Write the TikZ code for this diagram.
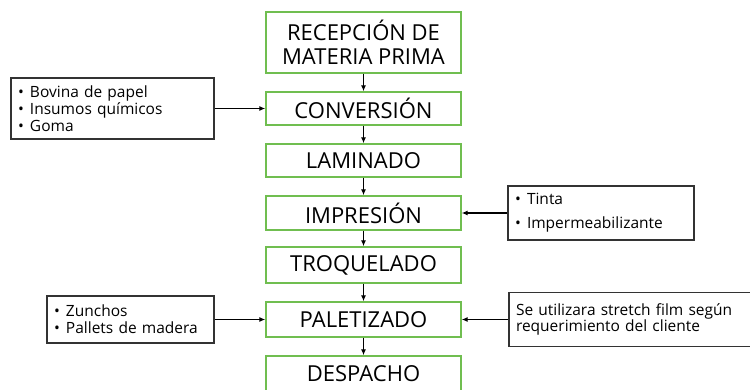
\documentclass[tikz,border=0pt]{standalone}
\usepackage{fontspec}
\setmainfont{Open Sans}
\usetikzlibrary{arrows.meta}

\definecolor{verde}{RGB}{112,190,80}
\newcommand{\itm}{\makebox[12pt][l]{\textbullet}}

\tikzset{
 etapa/.style={draw=verde, line width=1.4pt, minimum width=195pt, inner sep=2pt,
  font=\fontsize{22}{24}\selectfont, align=center},
 insumo/.style={draw=black!80, line width=1.2pt, inner sep=7pt, align=left,
  font=\fontsize{15.5}{16.7}\selectfont},
 flecha/.style={line width=1.5pt, -{Latex[length=6pt,width=5pt]}}
}

\begin{document}
\begin{tikzpicture}[x=1pt,y=-1pt]
 \useasboundingbox (0,0) rectangle (750,390);

 % etapas del proceso
 \node[etapa, minimum height=61pt] (rec) at (363.5,42.5) {RECEPCIÓN DE\\MATERIA PRIMA};
 \node[etapa, minimum height=33pt] (conv) at (363.5,108.5) {CONVERSIÓN};
 \node[etapa, minimum height=33pt] (lam) at (363.5,160.5) {LAMINADO};
 \node[etapa, minimum height=34pt] (imp) at (363.5,213) {IMPRESIÓN};
 \node[etapa, minimum height=36pt] (troq) at (363.5,265) {TROQUELADO};
 \node[etapa, minimum height=35pt] (pal) at (363.5,319.5) {PALETIZADO};
 \node[etapa, minimum height=35pt] (desp) at (363.5,373.5) {DESPACHO};

 \draw[flecha] (rec) -- (conv);
 \draw[flecha] (conv) -- (lam);
 \draw[flecha] (lam) -- (imp);
 \draw[flecha] (imp) -- (troq);
 \draw[flecha] (troq) -- (pal);
 \draw[flecha] (pal) -- (desp);

 % insumos
 \node[insumo, minimum width=203pt, minimum height=61pt, text width=189pt] (ins1) at (112.5,108.5)
  {\itm Bovina de papel\\ \itm Insumos químicos\\ \itm Goma};
 \node[insumo, minimum width=167pt, minimum height=47pt, text width=153pt] (ins2) at (130.5,319.5)
  {\itm Zunchos\\ \itm Pallets de madera};
 \node[insumo, minimum width=186pt, minimum height=54pt, text width=172pt,
  font=\fontsize{15.5}{24}\selectfont] (ins3) at (601,213)
  {\itm Tinta\\ \itm Impermeabilizante};
 \node[insumo, minimum height=54pt, text width=250pt] (ins4) at (641,319.5)
  {\makebox[238pt][s]{Se utilizara stretch film según}\\requerimiento del cliente};

 \draw[flecha] (ins1) -- (conv);
 \draw[flecha] (ins2) -- (pal);
 \draw[flecha] (ins3) -- (imp);
 \draw[flecha] (ins4) -- (pal);
\end{tikzpicture}
\end{document}
